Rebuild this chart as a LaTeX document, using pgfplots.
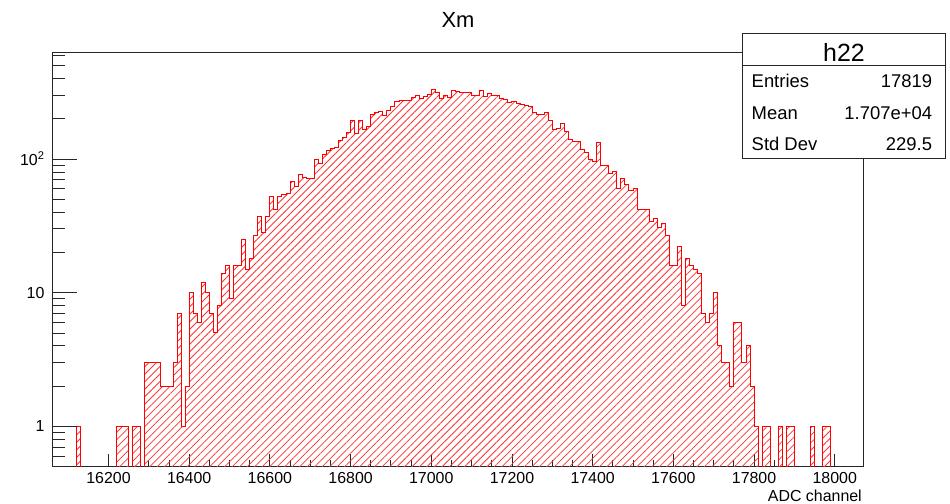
\documentclass[border=0pt]{standalone}
\usepackage{fontspec}
\setmainfont{Liberation Sans}
\usepackage{pgfplots}
\usepackage{pgfplotstable}
\pgfplotsset{compat=1.18}
\usetikzlibrary{patterns.meta}
\pgfplotstableread{
x n
16060 0.01
16070 0.01
16080 0.01
16090 0.01
16100 0.01
16110 0.01
16120 1
16130 0.01
16140 0.01
16150 0.01
16160 0.01
16170 0.01
16180 0.01
16190 0.01
16200 0.01
16210 0.01
16220 1
16230 1
16240 1
16250 0.01
16260 1
16270 1
16280 0.01
16290 3
16300 3
16310 3
16320 3
16330 2
16340 2
16350 2
16360 3
16370 7
16380 1
16390 2
16400 10
16410 7
16420 6
16430 12
16440 10
16450 7
16460 5
16470 8
16480 14
16490 16
16500 9
16510 16
16520 16
16530 25
16540 15
16550 18
16560 27
16570 37
16580 28
16590 37
16600 52
16610 42
16620 52
16630 54
16640 55
16650 68
16660 62
16670 76
16680 73
16690 72
16700 71
16710 100
16720 93
16730 108
16740 115
16750 119
16760 122
16770 137
16780 144
16790 158
16800 195
16810 156
16820 195
16830 166
16840 176
16850 217
16860 224
16870 228
16880 212
16890 232
16900 248
16910 271
16920 276
16930 272
16940 272
16950 290
16960 300
16970 285
16980 294
16990 302
17000 331
17010 312
17020 285
17030 300
17040 290
17050 327
17060 320
17070 315
17080 312
17090 312
17100 300
17110 300
17120 327
17130 294
17140 310
17150 298
17160 298
17170 285
17180 281
17190 265
17200 270
17210 258
17220 255
17230 250
17240 245
17250 222
17260 216
17270 216
17280 222
17290 194
17300 166
17310 170
17320 183
17330 162
17340 140
17350 135
17360 135
17370 118
17380 112
17390 100
17400 95
17410 132
17420 89
17430 89
17440 78
17450 80
17460 60
17470 71
17480 64
17490 58
17500 60
17510 42
17520 42
17530 42
17540 34
17550 36
17560 31
17570 33
17580 27
17590 16
17600 16
17610 22
17620 8
17630 18
17640 16
17650 15
17660 14
17670 7
17680 6
17690 7
17700 10
17710 4
17720 3
17730 3
17740 2
17750 6
17760 6
17770 3
17780 4
17790 2
17800 1
17810 0.01
17820 1
17830 1
17840 0.01
17850 0.01
17860 1
17870 0.01
17880 1
17890 1
17900 0.01
17910 0.01
17920 0.01
17930 0.01
17940 1
17950 0.01
17960 0.01
17970 1
17980 1
17990 0.01
18000 0.01
18010 0.01
18020 0.01
18030 0.01
18040 0.01
18050 0.01
18060 0.01
18070 0.01
}\histdata
\begin{document}
\begin{tikzpicture}
\path[use as bounding box] (0,0) rectangle (950bp,504bp);
\begin{axis}[
  at={(52bp,37.3bp)}, anchor=south west,
  scale only axis, width=811bp, height=414bp,
  xmin=16060, xmax=18070, ymode=log, ymin=0.5, ymax=624,
  axis line style={black!85, line width=0.9bp},
  xtick={16200,16400,16600,16800,17000,17200,17400,17600,17800,18000},
  xticklabels={16200,16400,16600,16800,17000,17200,17400,17600,17800,18000},
  scaled x ticks=false,
  minor x tick num=3,
  major tick length=12.7bp, minor tick length=6.5bp,
  xtick pos=bottom, tick align=inside,
  every tick/.style={black!85, line width=0.9bp},
  ymajorticks=false, yminorticks=false,
  xticklabel style={font=\fontsize{16}{16}\selectfont, anchor=base, yshift=-16.6bp, inner sep=0pt},
]
\addplot[const plot, draw=none,
  pattern={Lines[angle=45,distance=5.3bp,line width=0.75bp]}, pattern color=red!80]
  table[x=x, y=n] {\histdata};
\addplot[const plot, draw=red, line width=1bp, fill=none] table[x=x, y=n] {\histdata};
\end{axis}
\begin{axis}[
  at={(52bp,37.3bp)}, anchor=south west,
  scale only axis, width=811bp, height=414bp,
  xmin=16060, xmax=18070, ymode=log, ymin=0.5, ymax=624,
  axis line style={draw=none},
  xmajorticks=false, xminorticks=false,
  ytick={1,10,100}, yticklabels={1,10,10\textsuperscript{2}},
  minor ytick={0.6,0.7,0.8,0.9,2,3,4,5,6,7,8,9,20,30,40,50,60,70,80,90,200,300,400,500,600},
  major tick length=25bp, minor tick length=12.7bp,
  ytick pos=left, tick align=inside,
  every tick/.style={black!85, line width=0.9bp},
  yticklabel style={font=\fontsize{16}{16}\selectfont, anchor=east, xshift=-4bp},
]
\end{axis}
\node[font=\fontsize{22}{22}\selectfont, anchor=base] at (458bp,476bp) {Xm};
\node[font=\fontsize{16}{16}\selectfont, anchor=base east, inner sep=0pt] at (862bp,3bp) {ADC channel};
\draw[black!85, line width=0.9bp, fill=white] (742.3bp,470.7bp) rectangle (945.7bp,345.7bp);
\draw[black!85, line width=0.9bp] (742.3bp,439bp) -- (945.7bp,439bp);
\node[font=\fontsize{25}{25}\selectfont, anchor=base, inner sep=0pt] at (844bp,442.3bp) {h22};
\node[font=\fontsize{18.5}{18.5}\selectfont, anchor=base west, inner sep=0pt] at (751.5bp,416.3bp) {Entries};
\node[font=\fontsize{18.5}{18.5}\selectfont, anchor=base east, inner sep=0pt] at (932.3bp,416.3bp) {17819};
\node[font=\fontsize{18.5}{18.5}\selectfont, anchor=base west, inner sep=0pt] at (751.5bp,384.7bp) {Mean};
\node[font=\fontsize{18.5}{18.5}\selectfont, anchor=base east, inner sep=0pt] at (932.3bp,384.7bp) {1.707e+04};
\node[font=\fontsize{18.5}{18.5}\selectfont, anchor=base west, inner sep=0pt] at (751.5bp,353.3bp) {Std Dev};
\node[font=\fontsize{18.5}{18.5}\selectfont, anchor=base east, inner sep=0pt] at (932.3bp,353.3bp) {229.5};
\end{tikzpicture}
\end{document}
